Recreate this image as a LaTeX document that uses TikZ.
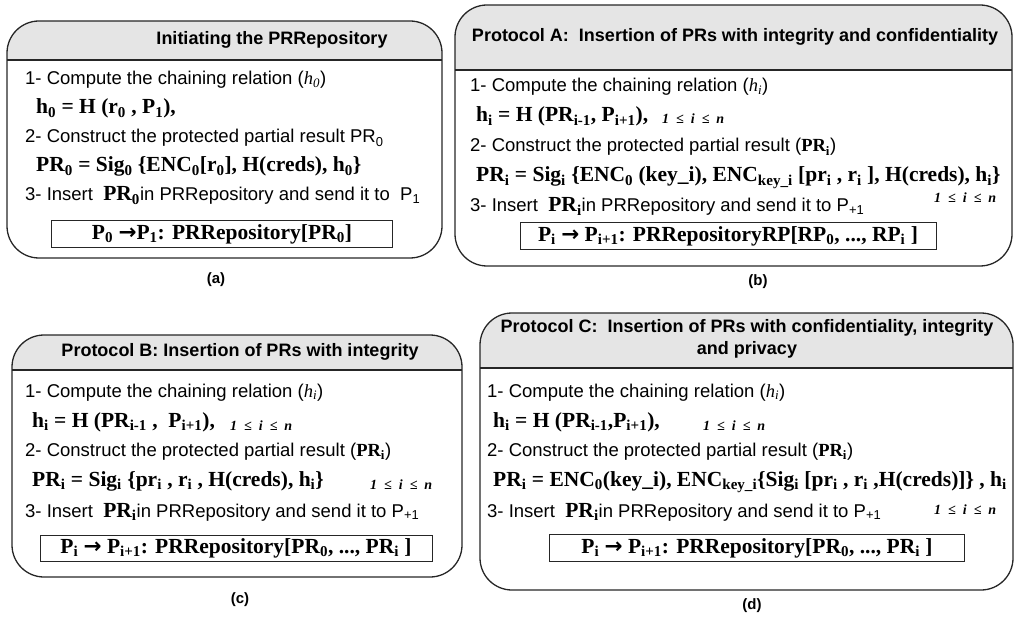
\documentclass[tikz,border=0pt]{standalone}
\usepackage{fontspec}
\setmainfont{Liberation Sans}
\newfontfamily\serifface{Liberation Serif}
\newfontfamily\arrowface{DejaVu Sans}

\newcommand{\sub}[1]{\textsubscript{#1}}
\newcommand{\bigpr}[1]{{\serifface\bfseries\fontsize{21.5}{24}\selectfont PR\sub{#1}}}
\newcommand{\irange}{1\enspace≤\enspace i\enspace≤\enspace n}
\newcommand{\toarrow}{{\arrowface\bfseries →}}

\begin{document}
\begin{tikzpicture}[x=1pt, y=-1pt,
  panel/.style={draw=black!85, line width=1.3pt, rounded corners=32pt},
  headfill/.style={fill=black!10},
  headtext/.style={font=\bfseries\fontsize{18}{22}\selectfont, align=center},
  steptext/.style={anchor=base west, inner sep=0pt, font=\fontsize{18.5}{22}\selectfont},
  formula/.style={anchor=base west, inner sep=0pt, font=\serifface\bfseries\fontsize{21.5}{24}\selectfont},
  bounds/.style={anchor=base west, inner sep=0pt, font=\serifface\bfseries\itshape\fontsize{14}{17}\selectfont},
  resultbox/.style={draw=black!85, line width=1pt, minimum height=27pt, inner sep=0pt, font=\serifface\bfseries\fontsize{21.5}{24}\selectfont},
  sublabel/.style={font=\bfseries\fontsize{15}{18}\selectfont}]

  \useasboundingbox (0,0) rectangle (1016,617);

  % Panel (a)
  \begin{scope}
    \clip[rounded corners=32pt] (7,21) rectangle (442,258);
    \fill[headfill] (7,21) rectangle (442,60);
  \end{scope}
  \draw[panel] (7,21) rectangle (442,258);
  \draw[panel] (7,60) -- (442,60);

  \node (titlea) [headtext] at (272,40) {Initiating the PRRepository};
  \node (stepa1) [steptext] at (25,85) {1- Compute the chaining relation ({\serifface\itshape h\sub{0}})};
  \node (forma1) [formula] at (36,114) {h\sub{0} = H (r\sub{0} , P\sub{1}),};
  \node (stepa2) [steptext] at (25,143) {2- Construct the protected partial result PR\sub{0}};
  \node (forma2) [formula] at (36,172) {PR\sub{0} = Sig\sub{0} \{ENC\sub{0}[r\sub{0}], H(creds), h\sub{0}\}};
  \node (stepa3) [steptext] at (25,201) {3- Insert \ \bigpr{0}in PRRepository and send it to \ P\sub{1}};
  \node (resa) [resultbox, minimum width=341pt] at (222,234) {P\sub{0} \toarrow P\sub{1}: PRRepository[PR\sub{0}]};
  \node (laba) [sublabel] at (216,280) {(a)};

  % Panel (b)
  \begin{scope}
    \clip[rounded corners=32pt] (455,5) rectangle (1012,266);
    \fill[headfill] (455,5) rectangle (1012,70);
  \end{scope}
  \draw[panel] (455,5) rectangle (1012,266);
  \draw[panel] (455,70) -- (1012,70);

  \node (titleb) [headtext] at (735,37) {Protocol A:\ \ Insertion of PRs with integrity and confidentiality};
  \node (stepb1) [steptext] at (470,92) {1- Compute the chaining relation ({\serifface\itshape h\sub{i}})};
  \node (formb1) [formula] at (476,122) {h\sub{i} = H (PR\sub{i-1}, P\sub{i+1}),};
  \node (rangeb1) [bounds] at (662,124) {\irange};
  \node (stepb2) [steptext] at (470,152) {2- Construct the protected partial result ({\serifface\bfseries PR\sub{i}})};
  \node (formb2) [formula] at (476,182) {PR\sub{i} = Sig\sub{i} \{ENC\sub{0} (key\_i), ENC\sub{key\_i} [pr\sub{i} , r\sub{i} ], H(creds), h\sub{i}\}};
  \node (stepb3) [steptext] at (470,212) {3- Insert \ \bigpr{i}in PRRepository and send it to P\sub{+1}};
  \node (rangeb2) [bounds] at (934,203) {\irange};
  \node (resb) [resultbox, minimum width=416pt] at (728,236) {P\sub{i} \toarrow\ P\sub{i+1}: PRRepositoryRP[RP\sub{0}, ..., RP\sub{i} ]};
  \node (labb) [sublabel] at (758,282) {(b)};

  % Panel (c)
  \begin{scope}
    \clip[rounded corners=32pt] (12,335) rectangle (462,577);
    \fill[headfill] (12,335) rectangle (462,370);
  \end{scope}
  \draw[panel] (12,335) rectangle (462,577);
  \draw[panel] (12,370) -- (462,370);

  \node (titlec) [headtext] at (240,352) {Protocol B: Insertion of PRs with integrity};
  \node (stepc1) [steptext] at (25,397) {1- Compute the chaining relation ({\serifface\itshape h\sub{i}})};
  \node (formc1) [formula] at (32,427) {h\sub{i} = H (PR\sub{i-1} , \ P\sub{i+1}),};
  \node (rangec1) [bounds] at (230,430) {\irange};
  \node (stepc2) [steptext] at (25,456) {2- Construct the protected partial result ({\serifface\bfseries PR\sub{i}})};
  \node (formc2) [formula] at (32,486) {PR\sub{i} = Sig\sub{i} \{pr\sub{i} , r\sub{i} , H(creds), h\sub{i}\}};
  \node (rangec2) [bounds] at (370,489) {\irange};
  \node (stepc3) [steptext] at (25,517) {3- Insert \ \bigpr{i}in PRRepository and send it to P\sub{+1}};
  \node (resc) [resultbox, minimum width=392pt, minimum height=26pt] at (236,548) {P\sub{i} \toarrow\ P\sub{i+1}: PRRepository[PR\sub{0}, ..., PR\sub{i} ]};
  \node (labc) [sublabel] at (240,600) {(c)};

  % Panel (d)
  \begin{scope}
    \clip[rounded corners=32pt] (480,313) rectangle (1013,590);
    \fill[headfill] (480,313) rectangle (1013,368);
  \end{scope}
  \draw[panel] (480,313) rectangle (1013,590);
  \draw[panel] (480,368) -- (1013,368);

  \node (titled) [headtext] at (747,339) {Protocol C:\ \ Insertion of PRs with confidentiality, integrity\\and privacy};
  \node (stepd1) [steptext] at (487,397) {1- Compute the chaining relation ({\serifface\itshape h\sub{i}})};
  \node (formd1) [formula] at (493,427) {h\sub{i} = H (PR\sub{i-1},P\sub{i+1}),};
  \node (ranged1) [bounds] at (703,430) {\irange};
  \node (stepd2) [steptext] at (487,456) {2- Construct the protected partial result ({\serifface\bfseries PR\sub{i}})};
  \node (formd2) [formula] at (493,486) {PR\sub{i} = ENC\sub{0}(key\_i), ENC\sub{key\_i}\{Sig\sub{i} [pr\sub{i} , r\sub{i} ,H(creds)]\} , h\sub{i}};
  \node (stepd3) [steptext] at (487,517) {3- Insert \ \bigpr{i}in PRRepository and send it to P\sub{+1}};
  \node (ranged2) [bounds] at (934,514) {\irange};
  \node (resd) [resultbox, minimum width=415pt] at (757,548) {P\sub{i} \toarrow\ P\sub{i+1}: PRRepository[PR\sub{0}, ..., PR\sub{i} ]};
  \node (labd) [sublabel] at (752,606) {(d)};

\end{tikzpicture}
\end{document}
